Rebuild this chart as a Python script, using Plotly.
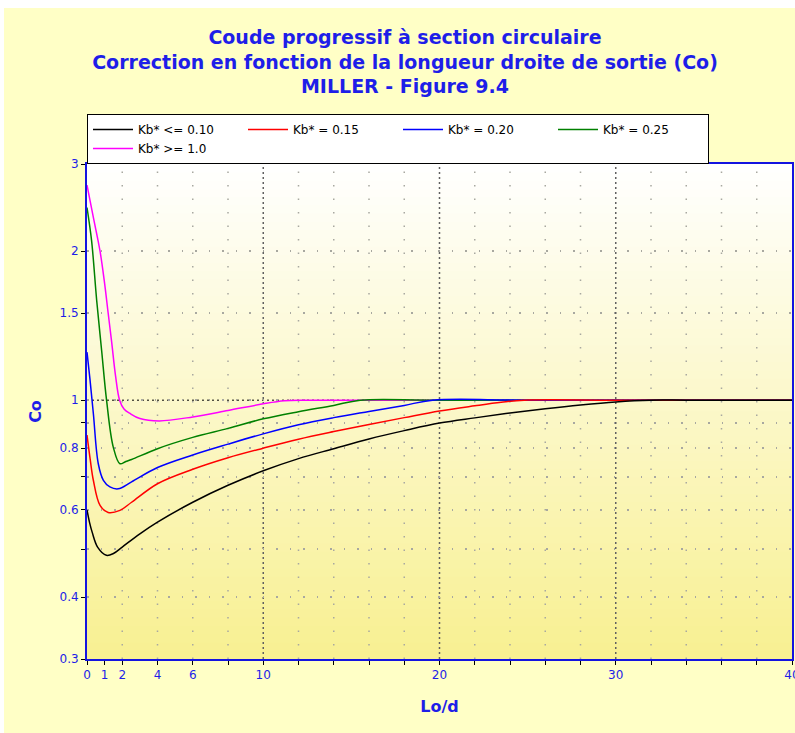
import math
import plotly.graph_objects as go

# ---------------- data ----------------
title_lines = [
    "Coude progressif à section circulaire",
    "Correction en fonction de la longueur droite de sortie (Co)",
    "MILLER - Figure 9.4",
]
x_title = "Lo/d"
y_title = "Co"

series_names = ["Kb* <= 0.10", "Kb* = 0.15", "Kb* = 0.20", "Kb* = 0.25", "Kb* >= 1.0"]
series_colors = ["#000000", "#FF0000", "#0000FF", "#008000", "#FF00FF"]

x_kb010 = [0, 0.15, 0.3, 0.6, 1.1, 1.5, 2, 3, 4, 6, 8, 10, 12, 14, 16, 18, 20, 22, 24, 26, 28, 30, 32, 34, 40]
y_kb010 = [0.60, 0.565, 0.54, 0.505, 0.486, 0.490, 0.505, 0.537, 0.567, 0.622, 0.673, 0.720, 0.762, 0.798,
           0.835, 0.868, 0.899, 0.921, 0.942, 0.961, 0.978, 0.992, 1.0, 1.0, 1.0]

x_kb015 = [0, 0.18, 0.36, 0.74, 1.2, 1.87, 2.53, 4, 6, 8, 10, 12, 14, 16, 18, 20, 22, 23.5, 24.8, 30, 40]
y_kb015 = [0.85, 0.76, 0.689, 0.613, 0.593, 0.599, 0.622, 0.678, 0.725, 0.765, 0.800, 0.834, 0.864,
           0.893, 0.922, 0.951, 0.974, 0.990, 1.0, 1.0, 1.0]

x_kb020 = [0, 0.17, 0.36, 0.64, 0.93, 1.3, 1.77, 2.53, 4, 6, 8, 10, 12, 14, 16, 18, 19.6, 25, 40]
y_kb020 = [1.25, 1.10, 0.94, 0.744, 0.689, 0.668, 0.662, 0.684, 0.731, 0.775, 0.815, 0.855, 0.892,
           0.922, 0.949, 0.976, 1.0, 1.0, 1.0]

x_kb025 = [0, 0.26, 0.55, 0.83, 1.11, 1.49, 1.87, 2.2, 2.53, 4, 6, 8, 10, 12, 14, 15.5, 20, 40]
y_kb025 = [2.45, 2.10, 1.59, 1.26, 1.0, 0.804, 0.744, 0.752, 0.759, 0.798, 0.841, 0.877, 0.917,
           0.948, 0.976, 1.0, 1.0, 1.0]

x_kb100 = [0, 0.36, 0.74, 1.0, 1.2, 1.4, 1.62, 1.85, 2.1, 2.44, 3, 4.1, 6, 8, 10, 11.2, 12.5, 40]
y_kb100 = [2.72, 2.34, 2.0, 1.72, 1.50, 1.31, 1.12, 1.00, 0.96, 0.94, 0.918, 0.908, 0.925, 0.953, 0.983,
           0.997, 1.0, 1.0]

x_tickvals = [0, 1, 2, 4, 6, 8, 10, 12, 14, 16, 18, 20, 22, 24, 26, 28, 30, 32, 34, 36, 38, 40]
x_ticklabels = ["0", "1", "2", "4", "6", "", "10", "", "", "", "", "20", "", "", "", "", "30",
                "", "", "", "", "40"]
y_tickvals = [0.3, 0.4, 0.5, 0.6, 0.7, 0.8, 0.9, 1, 1.5, 2, 3]
y_ticklabels = ["0.3", "0.4", "", "0.6", "", "0.8", "", "1", "1.5", "2", "3"]
x_grid_minor = [2, 4, 6, 8, 12, 14, 16, 18, 22, 24, 26, 28, 32, 34, 36, 38]
x_grid_major = [10, 20, 30]
y_ref_line = 1.0
x_range = [0, 40]
y_range = [0.3, 3]

# ---------------- layout constants ----------------
W, H = 795, 733
ML, MR, MT, MB = 87, 3, 164, 74
PW, PH = W - ML - MR, H - MT - MB
BLUE_TXT = "#1E1EE8"
AXIS_BLUE = "#1414E0"
FONT = "DejaVu Sans"

fig = go.Figure()

series = [
    (x_kb100, y_kb100, 4),
    (x_kb025, y_kb025, 3),
    (x_kb020, y_kb020, 2),
    (x_kb015, y_kb015, 1),
    (x_kb010, y_kb010, 0),
]
for xs, ys, k in series:
    fig.add_trace(go.Scatter(
        x=xs, y=ys, mode="lines", name=series_names[k],
        line=dict(color=series_colors[k], width=1.5, shape="spline", smoothing=1.0),
        hoverinfo="skip",
    ))

shapes = []
# plot-area vertical gradient (white at top -> yellow at bottom)
N = 60
top_rgb = (255, 255, 255)
bot_rgb = (248, 240, 145)
for i in range(N):
    s = 1 - (i + 0.5) / N  # fraction from top
    c = tuple(round(top_rgb[j] + (bot_rgb[j] - top_rgb[j]) * s) for j in range(3))
    shapes.append(dict(type="rect", xref="x domain", yref="y domain",
                       x0=0, x1=1, y0=i / N, y1=min(1, (i + 1) / N + 0.004),
                       fillcolor="rgb(%d,%d,%d)" % c, line=dict(width=0), layer="below"))
# grid lines
for gx in x_grid_minor:
    shapes.append(dict(type="line", xref="x", yref="y domain", x0=gx, x1=gx, y0=0, y1=1,
                       line=dict(color="#A8A8A0", width=1.5, dash="1.5px,12px"), layer="below"))
for gx in x_grid_major:
    shapes.append(dict(type="line", xref="x", yref="y domain", x0=gx, x1=gx, y0=0, y1=1,
                       line=dict(color="#606060", width=1.5, dash="2px,3px"), layer="below"))
shapes.append(dict(type="line", xref="x domain", yref="y", x0=0, x1=1, y0=y_ref_line, y1=y_ref_line,
                   line=dict(color="#000000", width=1, dash="2px,3px"), layer="below"))
# white frame strips (top 8 px, left 4 px) seen in the reference
shapes.append(dict(type="rect", xref="paper", yref="paper",
                   x0=-ML / PW - 0.02, x1=(W - ML) / PW + 0.02,
                   y0=(PH + MT - 8) / PH, y1=(PH + MT) / PH + 0.02,
                   fillcolor="white", line=dict(width=0), layer="below"))
shapes.append(dict(type="rect", xref="paper", yref="paper",
                   x0=-ML / PW - 0.02, x1=(4 - ML) / PW,
                   y0=-MB / PH - 0.02, y1=(PH + MT) / PH + 0.02,
                   fillcolor="white", line=dict(width=0), layer="below"))

tickfont = dict(family=FONT, size=12, color=BLUE_TXT)

fig.update_layout(
    width=W, height=H, autosize=False,
    margin=dict(l=ML, r=MR, t=MT, b=MB),
    paper_bgcolor="#FFFFC6",
    plot_bgcolor="white",
    shapes=shapes,
    showlegend=True,
    title=dict(text="<br>".join(title_lines), xref="container", yref="container",
               x=405 / W, xanchor="center", y=1 - 44 / H, yanchor="top",
               font=dict(family=FONT, size=19, color=BLUE_TXT, weight="bold")),
    legend=dict(orientation="h", x=0, xanchor="left", y=(PH + MT - 114) / PH, yanchor="top",
                bgcolor="white", bordercolor="black", borderwidth=1,
                font=dict(family=FONT, size=12, color="black"),
                entrywidth=100, entrywidthmode="pixels", traceorder="reversed",
                itemwidth=40, tracegroupgap=0),
    xaxis=dict(range=x_range, tickmode="array", tickvals=x_tickvals, ticktext=x_ticklabels,
               showgrid=False, zeroline=False, showline=True, linecolor=AXIS_BLUE, linewidth=2,
               mirror=True, ticks="outside", ticklen=4, tickcolor="black", tickwidth=1,
               tickfont=tickfont, automargin=False, ticklabeloverflow="allow",
               title=dict(text=x_title, standoff=19,
                          font=dict(family=FONT, size=16, color=BLUE_TXT, weight="bold"))),
    yaxis=dict(type="log", range=[math.log10(y_range[0]), math.log10(y_range[1])],
               tickmode="array", tickvals=y_tickvals, ticktext=y_ticklabels,
               showgrid=True, gridcolor="#A8A8A0", gridwidth=1.5, griddash="1.5px,12px",
               zeroline=False, showline=True, linecolor=AXIS_BLUE, linewidth=2, mirror=True,
               ticks="outside", ticklen=4, tickcolor="black", tickwidth=1,
               tickfont=tickfont, automargin=False,
               title=dict(text=y_title, standoff=14,
                          font=dict(family=FONT, size=16, color=BLUE_TXT, weight="bold"))),
)

fig.write_html(
    "out.html",
    config={"displayModeBar": False},
    post_script="document.body.style.margin='0px';document.documentElement.style.overflow='hidden';",
)
